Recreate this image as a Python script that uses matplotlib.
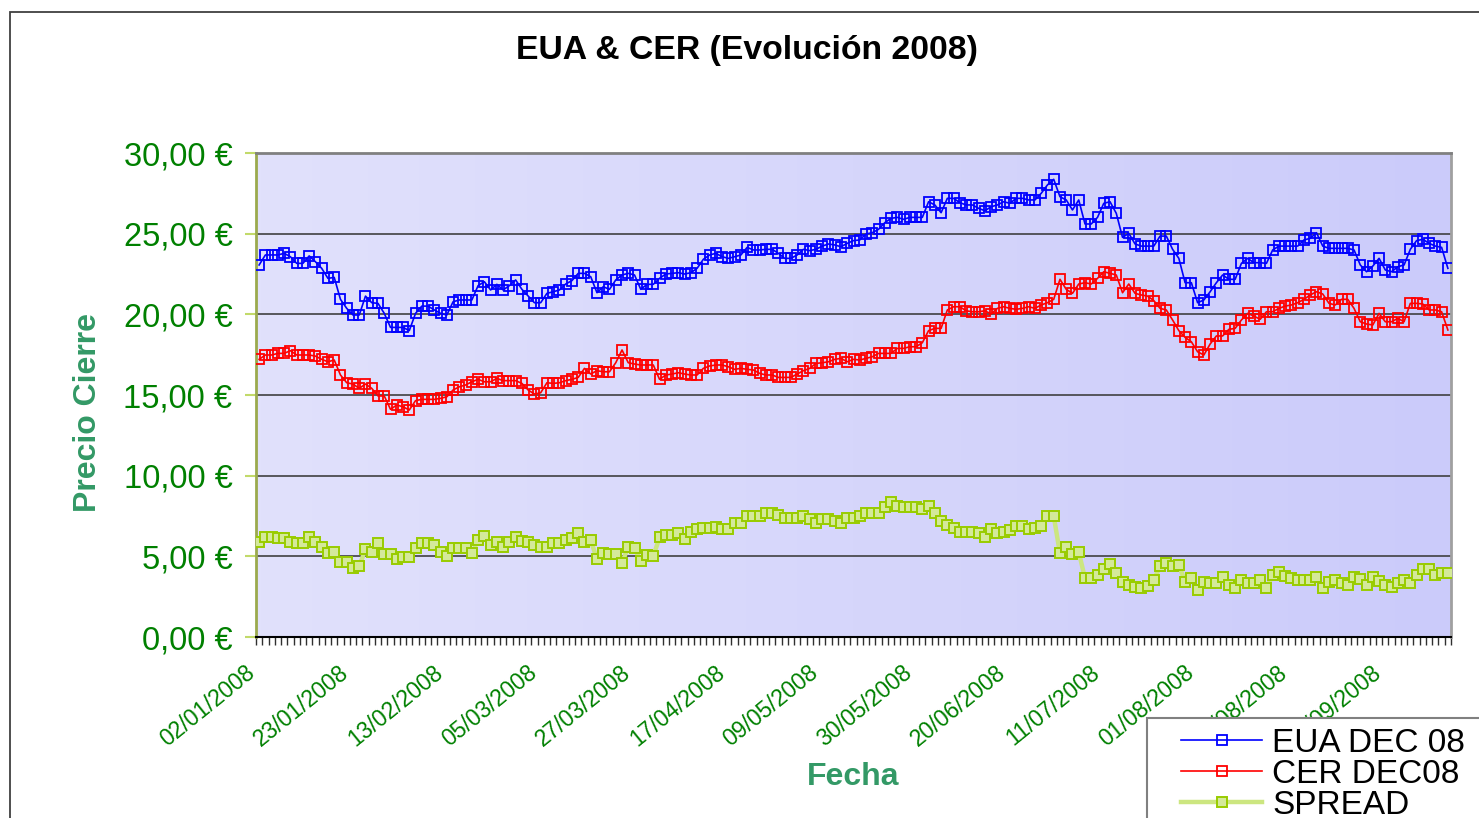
import matplotlib
matplotlib.use('Agg')
import matplotlib.pyplot as plt
from matplotlib.colors import LinearSegmentedColormap
from matplotlib.patches import Rectangle
from matplotlib.transforms import ScaledTranslation
import numpy as np
import pandas as pd

plt.rcParams['font.family'] = ['Liberation Sans', 'DejaVu Sans']

# fechas de cotizacion (dias habiles 2008, sin 21/03 y 01/05)
fechas = pd.bdate_range('2008-01-02', '2008-09-26')
fechas = fechas[~fechas.isin(pd.to_datetime(['2008-03-21', '2008-05-01']))]
etiquetas = [d.strftime('%d/%m/%Y') for d in fechas]

eua = [23.06, 23.68, 23.68, 23.68, 23.78, 23.57, 23.16, 23.16, 23.62, 23.26,
       22.85, 22.23, 22.29, 20.93, 20.37, 19.96, 19.96, 21.13, 20.72, 20.68,
       20.06, 19.19, 19.19, 19.19, 18.99, 20.06, 20.51, 20.51, 20.27, 20.06,
       19.96, 20.78, 20.89, 20.89, 20.89, 21.78, 22.02, 21.51, 21.86, 21.51,
       21.78, 22.13, 21.55, 21.13, 20.72, 20.72, 21.30, 21.40, 21.51, 21.88,
       22.09, 22.54, 22.54, 22.33, 21.34, 21.71, 21.55, 22.13, 22.44, 22.54,
       22.44, 21.55, 21.86, 21.86, 22.23, 22.50, 22.54, 22.58, 22.50, 22.58,
       22.85, 23.41, 23.68, 23.78, 23.57, 23.47, 23.57, 23.68, 24.15, 23.99,
       23.99, 24.03, 24.03, 23.78, 23.47, 23.47, 23.68, 24.03, 23.95, 24.03,
       24.23, 24.36, 24.30, 24.19, 24.40, 24.57, 24.61, 24.98, 25.06, 25.27,
       25.68, 25.95, 26.01, 25.89, 26.01, 26.01, 26.01, 26.98, 26.78, 26.30,
       27.19, 27.19, 26.92, 26.78, 26.78, 26.57, 26.42, 26.67, 26.78, 26.98,
       26.88, 27.19, 27.19, 27.09, 27.09, 27.50, 28.02, 28.37, 27.29, 27.09,
       26.47, 27.09, 25.60, 25.60, 26.01, 26.88, 26.98, 26.26, 24.77, 25.02,
       24.36, 24.23, 24.23, 24.23, 24.85, 24.85, 24.03, 23.47, 21.96, 21.96,
       20.72, 20.89, 21.40, 21.96, 22.44, 22.17, 22.17, 23.16, 23.47, 23.20,
       23.20, 23.16, 23.99, 24.23, 24.23, 24.23, 24.23, 24.61, 24.71, 25.06,
       24.23, 24.09, 24.09, 24.09, 24.09, 23.99, 23.06, 22.64, 22.99, 23.47,
       22.75, 22.64, 22.95, 23.06, 24.03, 24.57, 24.65, 24.40, 24.23, 24.15,
       22.85]

cer = [17.21, 17.48, 17.48, 17.58, 17.58, 17.75, 17.48, 17.48, 17.48, 17.41,
       17.21, 17.06, 17.17, 16.24, 15.76, 15.68, 15.41, 15.68, 15.41, 14.94,
       14.94, 14.11, 14.38, 14.27, 14.07, 14.65, 14.73, 14.73, 14.73, 14.79,
       14.89, 15.31, 15.51, 15.62, 15.82, 15.97, 15.82, 15.82, 16.03, 15.89,
       15.89, 15.89, 15.72, 15.31, 15.06, 15.14, 15.76, 15.72, 15.76, 15.89,
       15.97, 16.09, 16.65, 16.30, 16.51, 16.44, 16.44, 17.00, 17.79, 17.00,
       16.92, 16.86, 16.86, 16.86, 15.97, 16.24, 16.30, 16.38, 16.30, 16.24,
       16.24, 16.65, 16.80, 16.86, 16.86, 16.75, 16.59, 16.65, 16.59, 16.55,
       16.34, 16.24, 16.24, 16.09, 16.09, 16.09, 16.30, 16.51, 16.65, 16.96,
       17.00, 17.06, 17.21, 17.27, 17.06, 17.21, 17.17, 17.27, 17.37, 17.58,
       17.58, 17.58, 17.89, 17.89, 17.99, 17.99, 18.24, 18.99, 19.13, 19.13,
       20.27, 20.47, 20.47, 20.22, 20.16, 20.16, 20.22, 20.02, 20.37, 20.47,
       20.37, 20.31, 20.37, 20.47, 20.37, 20.58, 20.72, 20.93, 22.17, 21.55,
       21.30, 21.88, 21.96, 21.88, 22.23, 22.64, 22.54, 22.44, 21.34, 21.88,
       21.30, 21.20, 21.13, 20.85, 20.37, 20.27, 19.65, 18.99, 18.57, 18.30,
       17.68, 17.48, 18.16, 18.66, 18.66, 19.07, 19.13, 19.65, 20.06, 19.89,
       19.69, 20.16, 20.16, 20.37, 20.51, 20.58, 20.72, 20.93, 21.20, 21.40,
       21.26, 20.68, 20.58, 20.93, 20.93, 20.37, 19.54, 19.40, 19.34, 20.06,
       19.54, 19.54, 19.75, 19.54, 20.68, 20.68, 20.64, 20.27, 20.27, 20.16,
       19.03]

spread = [5.90, 6.21, 6.21, 6.11, 6.11, 5.90, 5.80, 5.80, 6.17, 5.90,
          5.59, 5.18, 5.28, 4.66, 4.66, 4.25, 4.40, 5.43, 5.28, 5.80,
          5.14, 5.14, 4.81, 4.93, 4.93, 5.49, 5.80, 5.80, 5.70, 5.28,
          5.01, 5.49, 5.49, 5.49, 5.18, 6.01, 6.26, 5.70, 5.90, 5.55,
          5.90, 6.21, 5.97, 5.90, 5.70, 5.59, 5.59, 5.80, 5.80, 6.01,
          6.11, 6.42, 5.90, 6.01, 4.81, 5.22, 5.14, 5.14, 4.60, 5.59,
          5.49, 4.73, 5.08, 5.01, 6.17, 6.32, 6.32, 6.46, 6.05, 6.52,
          6.67, 6.73, 6.73, 6.83, 6.67, 6.67, 7.08, 7.08, 7.50, 7.50,
          7.50, 7.70, 7.70, 7.56, 7.35, 7.35, 7.35, 7.50, 7.29, 7.08,
          7.29, 7.29, 7.21, 7.08, 7.35, 7.35, 7.50, 7.70, 7.70, 7.70,
          8.07, 8.38, 8.11, 8.03, 8.03, 8.03, 7.91, 8.11, 7.70, 7.21,
          6.94, 6.73, 6.52, 6.52, 6.52, 6.46, 6.21, 6.67, 6.46, 6.52,
          6.63, 6.88, 6.88, 6.67, 6.73, 6.88, 7.50, 7.50, 5.18, 5.59,
          5.14, 5.28, 3.63, 3.63, 3.84, 4.19, 4.52, 3.98, 3.42, 3.22,
          3.11, 3.01, 3.16, 3.53, 4.40, 4.60, 4.40, 4.46, 3.42, 3.63,
          2.91, 3.42, 3.32, 3.32, 3.73, 3.22, 3.01, 3.53, 3.36, 3.36,
          3.53, 3.01, 3.84, 4.04, 3.78, 3.63, 3.53, 3.53, 3.53, 3.73,
          3.01, 3.42, 3.53, 3.32, 3.22, 3.69, 3.57, 3.22, 3.69, 3.49,
          3.22, 3.11, 3.32, 3.53, 3.36, 3.84, 4.19, 4.19, 3.84, 3.94,
          3.94]

y_ticks = [0, 5, 10, 15, 20, 25, 30]
paso_etiqueta = 15

W, H = 1479, 818
fig = plt.figure(figsize=(W / 100, H / 100), dpi=100, facecolor='white')
ax = fig.add_axes([256 / W, 1 - 637 / H, 1195 / W, 484 / H])

x = np.arange(len(eua))

# fondo degradado del area de trazado
fondo = LinearSegmentedColormap.from_list('fondo', ['#E1E1FC', '#CBCBFA'])
ax.imshow(np.linspace(0, 1, 256).reshape(1, -1), extent=[0, 1, 0, 1], transform=ax.transAxes,
          aspect='auto', cmap=fondo, zorder=0)

for v in y_ticks[1:-1]:
    ax.axhline(v, color='#404040', lw=1.2, zorder=1)

ax.plot(x, eua, color='#0000FF', lw=1.2, marker='s', ms=6.8, mfc='none', mec='#0000FF', mew=1.3,
        label='EUA DEC 08', zorder=3)
ax.plot(x, cer, color='#FF0000', lw=1.2, marker='s', ms=6.8, mfc='none', mec='#FF0000', mew=1.3,
        label='CER DEC08', zorder=3)
ax.plot(x, spread, color='#CCE680', lw=3.2, marker='s', ms=6.8, mfc='#D4E99A', mec='#99CC00', mew=1.4,
        label='SPREAD', zorder=3)

ax.set_xlim(-0.5, len(eua) - 0.5)
ax.set_ylim(0, 30)

# eje Y
ax.set_yticks(y_ticks)
ax.set_yticklabels([f'{v:.2f} €'.replace('.', ',') for v in y_ticks])
ax.tick_params(axis='y', length=8, width=1.5, color='#C2DA6A', labelcolor='#008000', labelsize=23.5, pad=9)

# eje X
ax.set_xticks(x[::paso_etiqueta])
ax.set_xticklabels(etiquetas[::paso_etiqueta], rotation=39, ha='right', rotation_mode='anchor')
ax.set_xticks(np.arange(-0.5, len(eua), 1), minor=True)
ax.tick_params(axis='x', which='major', length=0, labelcolor='#008000', labelsize=16.5, pad=17)
ax.tick_params(axis='x', which='minor', length=6, width=1, color='#303030')
desplaza = ScaledTranslation(-14 / 100, 0, fig.dpi_scale_trans)
for lab in ax.get_xticklabels():
    lab.set_transform(lab.get_transform() + desplaza)

ax.spines['left'].set_color('#9BAA4E')
ax.spines['left'].set_linewidth(2)
ax.spines['bottom'].set_color('black')
ax.spines['bottom'].set_linewidth(1.5)
ax.spines['top'].set_color('#808080')
ax.spines['top'].set_linewidth(2)
ax.spines['right'].set_color('#A0A0A0')
ax.spines['right'].set_linewidth(2)

fig.text(747 / W, 1 - 51 / H, 'EUA & CER (Evolución 2008)', ha='center', va='center',
         fontsize=24.3, fontweight='bold', color='black')
fig.text(88 / W, 1 - 413 / H, 'Precio Cierre', ha='center', va='center', rotation=90,
         fontsize=23, fontweight='bold', color='#339966')
fig.text(853 / W, 1 - 777 / H, 'Fecha', ha='center', va='center',
         fontsize=23, fontweight='bold', color='#339966')

# borde del area del grafico
fig.add_artist(Rectangle((10 / W, -0.5), 2, 0.5 + 1 - 12 / H, transform=fig.transFigure,
                         fill=False, ec='#404040', lw=1.3))

# leyenda: caja blanca que sale del lienzo y entradas encima
fig.add_artist(Rectangle((1147 / W, -0.5), 1, 0.5 + 1 - 718 / H, transform=fig.transFigure,
                         fc='white', ec='#808080', lw=1.5, zorder=5))
handles, labels = ax.get_legend_handles_labels()
leg = fig.legend(handles, labels, loc='upper left', bbox_to_anchor=(1181 / W, 1 - 728 / H),
                 fontsize=24, frameon=False, handlelength=2.43, handletextpad=0.3,
                 labelspacing=0.0, borderpad=0, borderaxespad=0)
leg.set_zorder(6)

fig.savefig('out.png', dpi=100)
